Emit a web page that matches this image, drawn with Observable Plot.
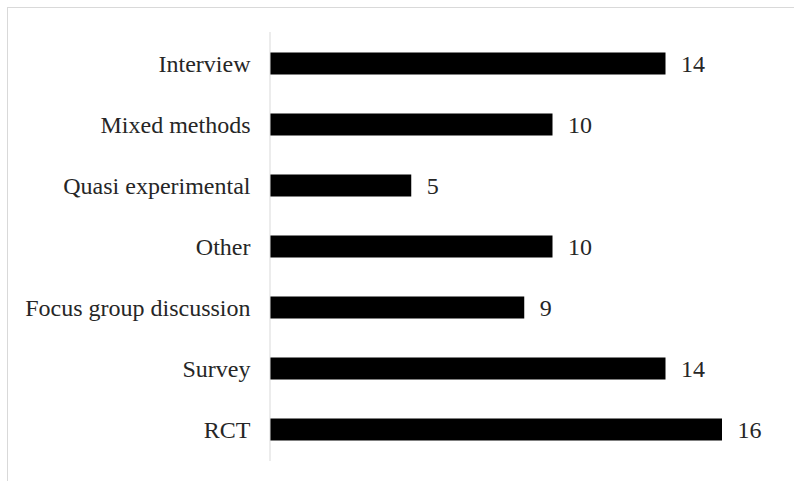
<!DOCTYPE html>
<html>
<head>
<meta charset="utf-8">
<script src="https://cdn.jsdelivr.net/npm/d3@7"></script>
<script src="https://cdn.jsdelivr.net/npm/@observablehq/plot@0.6"></script>
<style>
  html, body { margin: 0; padding: 0; background: #fff; }
  #wrap { position: relative; width: 794px; height: 481px; overflow: hidden; }
  #border { position: absolute; left: 7px; top: 7px; width: 800px; height: 500px; border-left: 1px solid #d9d9d9; border-top: 1px solid #d9d9d9; }
  #chart { position: absolute; left: 0; top: 0; }
</style>
</head>
<body>
<div id="wrap">
  <div id="border"></div>
  <div id="chart"></div>
</div>
<script>
const categories = ["Interview", "Mixed methods", "Quasi experimental", "Other", "Focus group discussion", "Survey", "RCT"];
const counts = [14, 10, 5, 10, 9, 14, 16];

const data = categories.map((c, i) => ({category: c, count: counts[i]}));
const FONT = "'Liberation Serif', 'Times New Roman', Tinos, 'DejaVu Serif', serif";

const chart = Plot.plot({
  width: 794,
  height: 481,
  marginLeft: 270,
  marginRight: 72,
  marginTop: 32,
  marginBottom: 20,
  style: {fontFamily: FONT, fontSize: "24px", color: "#262626", background: "transparent"},
  x: {domain: [0, 16], axis: null},
  y: {domain: categories, padding: 0, label: null},
  marks: [
    Plot.barX(data, {x: "count", y: "category", fill: "#000", insetTop: 19.5, insetBottom: 19.5}),
    Plot.ruleX([0], {stroke: "#d9d9d9", strokeWidth: 1, dx: -0.5}),
    Plot.text(data, {x: "count", y: "category", text: d => String(d.count), textAnchor: "start", dx: 15, fill: "#262626", fontSize: 24}),
    Plot.axisY({tickSize: 0, tickPadding: 20, fontSize: 24, fill: "#262626", label: null})
  ]
});
chart.querySelectorAll("text").forEach(t => t.setAttribute("font-family", FONT));
chart.style.fontFamily = FONT;
document.getElementById("chart").appendChild(chart);
</script>
</body>
</html>
